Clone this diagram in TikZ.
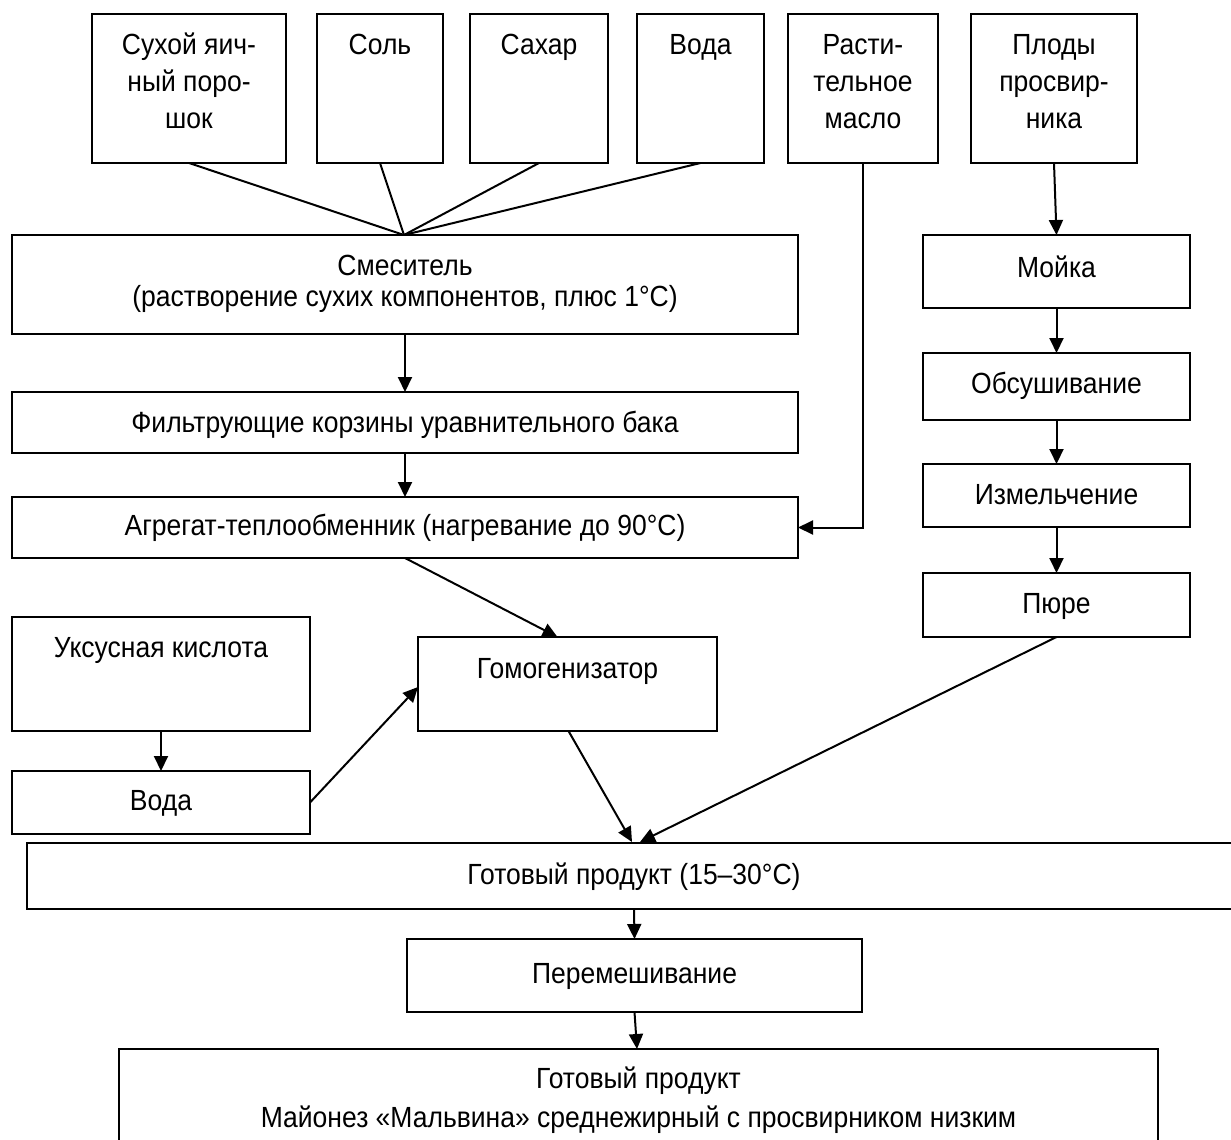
\documentclass[tikz,border=0pt]{standalone}
\usepackage{fontspec}
\setmainfont{Liberation Sans}
\usetikzlibrary{arrows.meta,calc}
\newcommand\ml[2]{\vtop{\baselineskip=#1pt\lineskiplimit=-20pt\halign{\hfil##\hfil\cr#2\crcr}}}
\newcommand\tx[1]{\scalebox{1}[1.1]{#1}}
\tikzset{
  box/.style={draw, line width=2pt, inner sep=0pt, outer sep=0pt},
  txt/.style={anchor=base, inner sep=0pt, font=\fontsize{26.5}{31}\selectfont},
  con/.style={line width=2pt},
  arr/.style={line width=2pt, -{Triangle[length=15pt,width=14pt]}}
}
\begin{document}
\begin{tikzpicture}[x=1pt,y=-1pt]
\path[use as bounding box, clip] (0,0) rectangle (1231,1140);
% top row
\node[box, minimum width=194pt, minimum height=149pt] (b1) at (189,88.5) {};
\node[box, minimum width=126pt, minimum height=149pt] (b2) at (380,88.5) {};
\node[box, minimum width=138pt, minimum height=149pt] (b3) at (539,88.5) {};
\node[box, minimum width=127pt, minimum height=149pt] (b4) at (700.5,88.5) {};
\node[box, minimum width=150pt, minimum height=149pt] (b5) at (863,88.5) {};
\node[box, minimum width=166pt, minimum height=149pt] (b6) at (1054,88.5) {};
\node[txt] (t1) at (189,55) {\tx{\ml{33.2}{Сухой яич-\cr ный поро-\cr шок}}};
\node[txt] (t2) at (380,55) {\tx{Соль}};
\node[txt] (t3) at (539,55) {\tx{Сахар}};
\node[txt] (t4) at (700.5,55) {\tx{Вода}};
\node[txt] (t5) at (863,55) {\tx{\ml{33.2}{Расти-\cr тельное\cr масло}}};
\node[txt] (t6) at (1054,55) {\tx{\ml{33.2}{Плоды\cr просвир-\cr ника}}};
% left column
\node[box, minimum width=786pt, minimum height=99pt] (smes) at (405,284.5) {};
\node[txt] (tsmes) at (405,275) {\tx{\ml{29}{Смеситель\cr (растворение сухих компонентов, плюс 1°C)}}};
\node[box, minimum width=786pt, minimum height=61pt] (filt) at (405,422.5) {};
\node[txt] (tfilt) at (405,432) {\tx{Фильтрующие корзины уравнительного бака}};
\node[box, minimum width=786pt, minimum height=61pt] (agr) at (405,527.5) {};
\node[txt] (tagr) at (405,535) {\tx{Агрегат-теплообменник (нагревание до 90°C)}};
% right column
\node[box, minimum width=267pt, minimum height=73pt] (moy) at (1056.5,271.5) {};
\node[txt] (tmoy) at (1056.5,277) {\tx{Мойка}};
\node[box, minimum width=267pt, minimum height=67pt] (obs) at (1056.5,386.5) {};
\node[txt] (tobs) at (1056.5,393) {\tx{Обсушивание}};
\node[box, minimum width=267pt, minimum height=63pt] (izm) at (1056.5,495.5) {};
\node[txt] (tizm) at (1056.5,504) {\tx{Измельчение}};
\node[box, minimum width=267pt, minimum height=64pt] (pur) at (1056.5,605) {};
\node[txt] (tpur) at (1056.5,613) {\tx{Пюре}};
% lower part
\node[box, minimum width=298pt, minimum height=114pt] (uks) at (161,674) {};
\node[txt] (tuks) at (161,657) {\tx{Уксусная кислота}};
\node[box, minimum width=298pt, minimum height=63pt] (voda) at (161,802.5) {};
\node[txt] (tvoda) at (161,810) {\tx{Вода}};
\node[box, minimum width=299pt, minimum height=94pt] (hom) at (567.5,684) {};
\node[txt] (thom) at (567.5,678) {\tx{Гомогенизатор}};
\node[box, minimum width=1240pt, minimum height=66pt] (gp) at (647,876) {};
\node[txt] (tgp) at (634,884) {\tx{Готовый продукт (15–30°C)}};
\node[box, minimum width=455pt, minimum height=73pt] (per) at (634.5,975.5) {};
\node[txt] (tper) at (634.5,983) {\tx{Перемешивание}};
\node[box, minimum width=1039pt, minimum height=130pt] (fin) at (638.5,1114) {};
\node[txt] (tfin) at (638.5,1088) {\tx{\ml{36}{Готовый продукт\cr Майонез «Мальвина» среднежирный с просвирником низким}}};
% connectors
\coordinate (J) at (404,235);
\draw[con] (b1.south) -- (J);
\draw[con] (b2.south) -- (J);
\draw[con] (b3.south) -- (J);
\draw[con] (b4.south) -- (J);
\draw[arr] (smes.south) -- (filt.north);
\draw[arr] (filt.south) -- (agr.north);
\draw[arr] (b5.south) |- (agr.east);
\draw[arr] (b6.south) -- (moy.north);
\draw[arr] (moy.south) -- (obs.north);
\draw[arr] (obs.south) -- (izm.north);
\draw[arr] (izm.south) -- (pur.north);
\draw[arr] (agr.south) -- ($(hom.north)+(-10,0)$);
\draw[arr] (uks.south) -- (voda.north);
\draw[arr] (voda.east) -- ($(hom.west)+(0,3)$);
\draw[arr] ($(hom.south)+(1,0)$) -- (632,842);
\draw[arr] (pur.south) -- (640,842);
\draw[arr] (634,909) -- (per.north);
\draw[arr] (per.south) -- (637,1049);
\end{tikzpicture}
\end{document}
